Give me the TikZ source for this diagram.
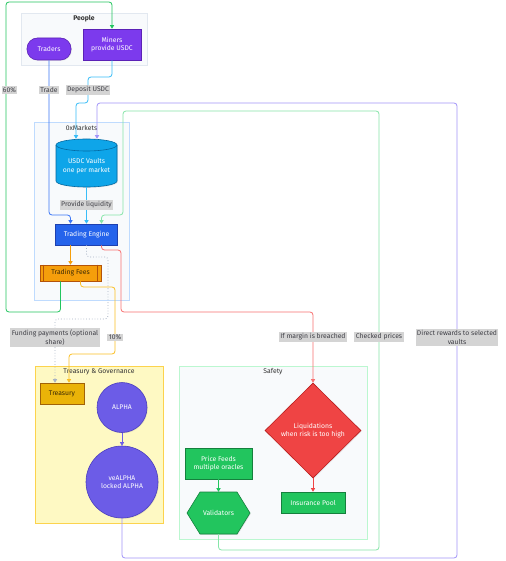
\documentclass[tikz,border=0pt]{standalone}
\usepackage{fontspec}
\setmainfont{Fira Sans}
\usetikzlibrary{arrows.meta,shapes.geometric,shadows}
\definecolor{clbg}{HTML}{F8FAFC}
\definecolor{peopleB}{HTML}{E2E8F0}
\definecolor{mktB}{HTML}{BFDBFE}
\definecolor{treBg}{HTML}{FEF9C3}
\definecolor{treB}{HTML}{FCD34D}
\definecolor{safB}{HTML}{BBF7D0}
\definecolor{purp}{HTML}{7C3AED}
\definecolor{purpD}{HTML}{5B21B6}
\definecolor{vaultC}{HTML}{0EA5E9}
\definecolor{vaultD}{HTML}{0369A1}
\definecolor{engC}{HTML}{2563EB}
\definecolor{engD}{HTML}{1E40AF}
\definecolor{feeC}{HTML}{F59E0B}
\definecolor{feeD}{HTML}{B45309}
\definecolor{feeT}{HTML}{3B2A05}
\definecolor{treC}{HTML}{EAB308}
\definecolor{treD}{HTML}{A16207}
\definecolor{alC}{HTML}{6C5CE7}
\definecolor{alD}{HTML}{4C3FBF}
\definecolor{liqC}{HTML}{EF4444}
\definecolor{liqD}{HTML}{B91C1C}
\definecolor{grC}{HTML}{22C55E}
\definecolor{grD}{HTML}{15803D}
\definecolor{tradeC}{HTML}{3B76F6}
\definecolor{depC}{HTML}{38BDF8}
\definecolor{rewC}{HTML}{A294F9}
\definecolor{chkC}{HTML}{86E5A8}
\definecolor{redL}{HTML}{F87171}
\definecolor{yelC}{HTML}{FBBF24}
\definecolor{dotC}{HTML}{A8B3C4}
\definecolor{lblBg}{HTML}{D4D4D4}
\definecolor{lblT}{HTML}{3F3F46}
\definecolor{clT}{HTML}{333333}
\begin{document}
\begin{tikzpicture}[x=1pt,y=-1pt,
  font=\fontsize{6.8}{8.6}\selectfont,
  cluster/.style={line width=0.6pt},
  cltitle/.style={text=clT, inner sep=0pt},
  box/.style={draw, line width=0.6pt, inner sep=1pt, align=center, text=white,
    drop shadow={shadow xshift=0.8pt, shadow yshift=-0.8pt, opacity=0.18}},
  lbl/.style={fill=lblBg, text=lblT, inner sep=1.4pt, align=center},
  conn/.style={line width=0.8pt, rounded corners=3pt, -{Triangle[width=4.2pt,length=3.6pt]}}]
\fill[white] (0,0) rectangle (505,561);
\useasboundingbox (0,0) rectangle (505,561);
% clusters
\draw[cluster, draw=peopleB, fill=clbg] (21,13) rectangle (147,65);
\node[cltitle, font=\fontsize{6.8}{8.6}\selectfont\bfseries] at (84,18.5) {People};
\draw[cluster, draw=mktB, fill=clbg] (34,122) rectangle (129,300);
\node[cltitle] at (81.5,127.5) {0xMarkets};
\draw[cluster, draw=treB, fill=treBg] (35,366) rectangle (163,523);
\node[cltitle] at (99,371.5) {Treasury \& Governance};
\draw[cluster, draw=safB, fill=clbg] (179,366) rectangle (367,539);
\node[cltitle] at (273,371.5) {Safety};
% nodes
\node[box, fill=purp, draw=purpD, rounded corners=10.5pt, minimum width=44pt, minimum height=22pt] (traders) at (49,49) {Traders};
\node[box, fill=purp, draw=purpD, minimum width=58pt, minimum height=31pt] (miners) at (112,44.5) {Miners\\provide USDC};
\filldraw[fill=vaultC, draw=vaultD, line width=0.6pt, drop shadow={shadow xshift=0.8pt, shadow yshift=-0.8pt, opacity=0.18}]
  (56,145) -- (56,181) arc[start angle=180,end angle=360,x radius=30.5pt,y radius=6pt]
  -- (117,145) arc[start angle=0,end angle=180,x radius=30.5pt,y radius=6pt] -- cycle;
\draw[draw=vaultD, line width=0.6pt] (56,145) arc[start angle=180,end angle=360,x radius=30.5pt,y radius=6pt];
\node[minimum width=61pt, minimum height=42pt, inner sep=0pt, text=white, align=center] (vault) at (86.5,166) {USDC Vaults\\one per market};
\node[box, fill=engC, draw=engD, minimum width=62pt, minimum height=21pt] (engine) at (86.5,234.5) {Trading Engine};
\node[box, fill=feeC, draw=feeD, text=feeT, minimum width=61pt, minimum height=16pt] (fees) at (70.5,273) {Trading Fees};
\draw[feeD, line width=0.6pt] ([xshift=4pt]fees.north west) -- ([xshift=4pt]fees.south west)
  ([xshift=-4pt]fees.north east) -- ([xshift=-4pt]fees.south east);
\node[box, fill=treC, draw=treD, text=feeT, minimum width=44pt, minimum height=21pt] (treasury) at (62,393.5) {Treasury};
\node[box, circle, fill=alC, draw=alD, minimum size=50pt] (alpha) at (122,407.5) {ALPHA};
\node[box, circle, fill=alC, draw=alD, minimum size=72pt] (vealpha) at (122,482) {veALPHA\\locked ALPHA};
\node[box, diamond, fill=liqC, draw=liqD, minimum width=96pt, minimum height=95pt, inner sep=0pt] (liq) at (313,430.5) {Liquidations\\when risk is too high};
\node[box, fill=grC, draw=grD, minimum width=64pt, minimum height=21pt] (ins) at (313,502.5) {Insurance Pool};
\node[box, fill=grC, draw=grD, minimum width=67pt, minimum height=31pt] (price) at (218.5,463.5) {Price Feeds\\multiple oracles};
\filldraw[fill=grC, draw=grD, line width=0.6pt, drop shadow={shadow xshift=0.8pt, shadow yshift=-0.8pt, opacity=0.18}]
  (187,513) -- (200,492) -- (237,492) -- (250,513) -- (237,534) -- (200,534) -- cycle;
\node[minimum width=63pt, minimum height=42pt, inner sep=0pt, text=white] (valid) at (218.5,513) {Validators};
% connectors
\draw[conn, draw=grC] ([xshift=-10pt]fees.south) -- (60.5,312) -- (6,312) -- (6,2) -- (112,2) -- (miners.north);
\draw[conn, draw=tradeC] (traders.south) -- (49,215) -- (70.5,215) -- ([xshift=-16pt]engine.north);
\draw[conn, draw=depC] (miners.south) -- (112,77) -- (88,77) -- (88,103) -- (76,103) -- ([xshift=-10.5pt,yshift=6pt]vault.north);
\draw[conn, draw=rewC] (vealpha.south) -- (122,558) -- (457,558) -- (457,103) -- (97,103) -- ([xshift=10.5pt,yshift=6pt]vault.north);
\draw[conn, draw=chkC] (valid.south) -- (218.5,550) -- (379,550) -- (379,111) -- (123,111) -- (123,215) -- (101.5,215) -- ([xshift=15pt]engine.north);
\draw[conn, draw=depC] (vault.south) -- (engine.north);
\draw[conn, draw=feeC] ([xshift=-16pt]engine.south) -- (fees.north);
\draw[conn, draw=redL] ([xshift=15pt]engine.south) -- (101.5,250) -- (121,250) -- (121,312) -- (313,312) -- (liq.north);
\draw[conn, draw=dotC, dotted] (engine.south) -- (86.5,257) -- (108,257) -- (108,319) -- (55,319) -- ([xshift=-7pt]treasury.north);
\draw[conn, draw=yelC] ([xshift=10pt]fees.south) -- (80.5,287) -- (115,287) -- (115,354) -- (69,354) -- ([xshift=7pt]treasury.north);
\draw[conn, draw=alC] (alpha) -- (vealpha);
\draw[conn, draw=liqC] (liq) -- (ins);
\draw[conn, draw=grC] (price) -- (valid.north);
% labels
\node[lbl] at (9.5,90) {60\%};
\node[lbl] at (49,90) {Trade};
\node[lbl] at (88,90) {Deposit USDC};
\node[lbl] at (86.5,205) {Provide liquidity};
\node[lbl] at (55,337.5) {Funding payments (optional\\share)};
\node[lbl] at (115,337.5) {10\%};
\node[lbl] at (313,337) {If margin is breached};
\node[lbl] at (379,337) {Checked prices};
\node[lbl] at (457,337.5) {Direct rewards to selected\\vaults};
\end{tikzpicture}
\end{document}
